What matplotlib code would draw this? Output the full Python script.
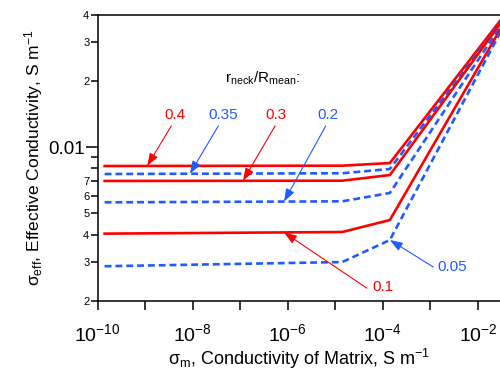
import numpy as np
import matplotlib
matplotlib.use('Agg')
from matplotlib import pyplot as plt
from matplotlib.ticker import FixedLocator, FixedFormatter

plt.rcParams['font.family'] = ['Liberation Sans', 'DejaVu Sans']
plt.rcParams['mathtext.fontset'] = 'custom'
plt.rcParams['mathtext.rm'] = 'Liberation Sans'
plt.rcParams['mathtext.it'] = 'Liberation Sans:italic'
plt.rcParams['mathtext.bf'] = 'Liberation Sans:bold'

## matrix conductivity, S m^-1
sigma_m = [1.4e-10, 1.4e-5, 1.4e-4, 2.9e-2]

## effective conductivity, one list per r_neck/R_mean
eff_040 = [0.00821, 0.00824, 0.00847, 0.0376]
eff_035 = [0.00755, 0.00761, 0.00796, 0.0368]
eff_030 = [0.00702, 0.00704, 0.00747, 0.0364]
eff_020 = [0.00561, 0.00567, 0.00619, 0.0353]
eff_010 = [0.00404, 0.00411, 0.00466, 0.0342]
eff_005 = [0.00287, 0.00300, 0.00378, 0.0331]

red = '#ff0000'
blue = '#1f5cff'

x_ticks = [1e-10, 1e-9, 1e-8, 1e-7, 1e-6, 1e-5, 1e-4, 1e-3, 1e-2]
x_labels = [r'$10^{-10}$', '', r'$10^{-8}$', '', r'$10^{-6}$', '',
            r'$10^{-4}$', '', r'$10^{-2}$']
y_small = [2e-3, 3e-3, 4e-3, 5e-3, 6e-3, 7e-3, 8e-3, 9e-3, 2e-2, 3e-2, 4e-2]
y_small_labels = ['2', '3', '4', '5', '6', '7', '', '', '2', '3', '4']

fig = plt.figure(figsize=(5, 3.79), dpi=100)
ax = fig.add_axes([0.1954, 0.2066, 0.8046, 0.7538])

ax.plot(sigma_m, eff_040, color=red, lw=1.9)
ax.plot(sigma_m, eff_035, color=blue, lw=1.9, ls=(0, (2.6, 1.5)))
ax.plot(sigma_m, eff_030, color=red, lw=1.9)
ax.plot(sigma_m, eff_020, color=blue, lw=1.9, ls=(0, (2.6, 1.5)))
ax.plot(sigma_m, eff_010, color=red, lw=1.9)
ax.plot(sigma_m, eff_005, color=blue, lw=1.9, ls=(0, (2.6, 1.5)))

ax.set_xscale('log')
ax.set_yscale('log')
ax.set_xlim(1e-10, 2.9e-2)
ax.set_ylim(2e-3, 4e-2)

ax.xaxis.set_major_locator(FixedLocator(x_ticks))
ax.xaxis.set_major_formatter(FixedFormatter(x_labels))
ax.xaxis.set_minor_locator(FixedLocator([]))
ax.yaxis.set_major_locator(FixedLocator([0.01]))
ax.yaxis.set_major_formatter(FixedFormatter(['0.01']))
ax.yaxis.set_minor_locator(FixedLocator(y_small))
ax.yaxis.set_minor_formatter(FixedFormatter(y_small_labels))

ax.tick_params(axis='x', which='major', direction='out', length=6.5, width=1.1,
               labelsize=14, pad=10, top=False)
ax.tick_params(axis='y', which='major', direction='out', length=8.5, width=1.1,
               labelsize=13.5, pad=1)
ax.tick_params(axis='y', which='minor', direction='out', length=5, width=1.1,
               labelsize=8, pad=1)

for side in ['left', 'bottom', 'top']:
    ax.spines[side].set_linewidth(1.1)
ax.spines['right'].set_visible(False)

ax.set_xlabel(r'σ$_{\rm m}$, Conductivity of Matrix, S m$^{-1}$', fontsize=13, labelpad=1)
ax.set_ylabel(r'σ$_{\rm eff}$, Effective Conductivity, S m$^{-1}$', fontsize=12.5, labelpad=2)

ax.text(0.317, 0.78, r'r$_{\rm neck}$/R$_{\rm mean}$:', transform=ax.transAxes,
        ha='left', va='center', fontsize=11)

## label, series, colour, x of arrow tip, text centre, arrow start (axes fraction)
notes = [
    ('0.4', eff_040, red, 1.1e-9, (0.193, 0.650), (0.183, 0.612)),
    ('0.35', eff_035, blue, 8.7e-9, (0.312, 0.650), (0.300, 0.612)),
    ('0.3', eff_030, red, 1.14e-7, (0.443, 0.650), (0.441, 0.612)),
    ('0.2', eff_020, blue, 8.3e-7, (0.573, 0.650), (0.567, 0.612)),
    ('0.1', eff_010, red, 8.3e-7, (0.709, 0.048), (0.669, 0.044)),
    ('0.05', eff_005, blue, 1.4e-4, (0.881, 0.118), (0.834, 0.118)),
]
for label, series, c, tx, tpos, start in notes:
    ty = 10 ** np.interp(np.log10(tx), np.log10(sigma_m), np.log10(series))
    ax.text(tpos[0], tpos[1], label, transform=ax.transAxes, ha='center',
            va='center', color=c, fontsize=11)
    ax.annotate('', xy=(tx, ty), xycoords='data', xytext=start,
                textcoords='axes fraction',
                arrowprops=dict(arrowstyle='-|>,head_length=0.7,head_width=0.25',
                                color=c, lw=0.8, shrinkA=0, shrinkB=0,
                                mutation_scale=11))

fig.savefig('out.png', dpi=100)
